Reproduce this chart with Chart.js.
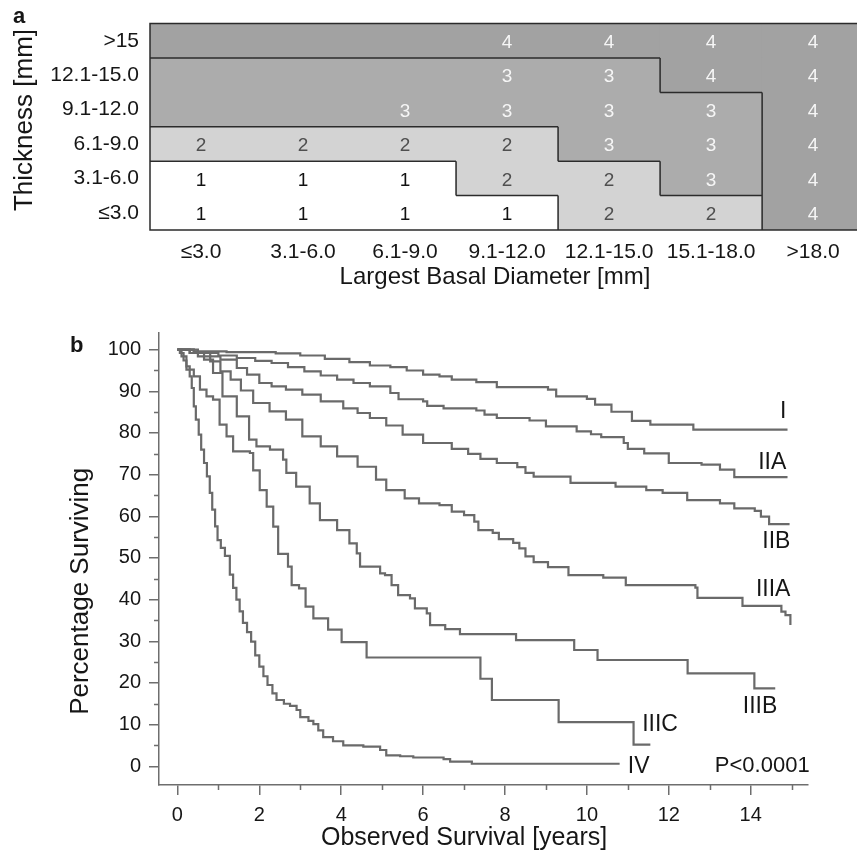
<!DOCTYPE html>
<html>
<head>
<meta charset="utf-8">
<title>Staging grid and survival by stage</title>
<script src="https://cdn.jsdelivr.net/npm/chart.js@4.4.1/dist/chart.umd.min.js"></script>
<style>
  html, body { margin: 0; padding: 0; background: #fff; }
  #wrap { position: relative; width: 857px; height: 856px; overflow: hidden; }
  canvas { position: absolute; left: 0; }
  #gridChart { top: 0; }
  #survChart { top: 290px; }
</style>
</head>
<body>
<div id="wrap">
  <canvas id="gridChart" width="857" height="290"></canvas>
  <canvas id="survChart" width="857" height="566"></canvas>
</div>
<script>
// ── Panel a: size categories ──────────────────────────────────────
const diamLabels  = ['≤3.0', '3.1-6.0', '6.1-9.0', '9.1-12.0', '12.1-15.0', '15.1-18.0', '>18.0'];
const thickLabels = ['≤3.0', '3.1-6.0', '6.1-9.0', '9.1-12.0', '12.1-15.0', '>15'];

// category of every cell, rows from ≤3.0 (bottom) up to >15 (top)
const sizeCategory = [
  [1, 1, 1, 1, 2, 2, 4],
  [1, 1, 1, 2, 2, 3, 4],
  [2, 2, 2, 2, 3, 3, 4],
  [3, 3, 3, 3, 3, 3, 4],
  [3, 3, 3, 3, 3, 4, 4],
  [4, 4, 4, 4, 4, 4, 4],
];
// numbers printed in the cells (null = left blank)
const cellNumbers = [
  [1, 1, 1, 1, 2, 2, 4],
  [1, 1, 1, 2, 2, 3, 4],
  [2, 2, 2, 2, 3, 3, 4],
  [null, null, 3, 3, 3, 3, 4],
  [null, null, null, 3, 3, 4, 4],
  [null, null, null, 4, 4, 4, 4],
];

// ── Panel b: Kaplan-Meier curves, [years, % surviving] ───────────
const stageI = [[0,100],[0.4,99.6],[1.2,99.4],[2.4,99.1],[3.0,98.6],[3.6,97.8],[4.2,97.0],[4.7,96.2],[5.2,95.8],[5.6,95.0],[6.0,94.0],[6.4,93.6],[6.7,92.8],[7.3,92.2],[7.8,91.0],[9.05,90.4],[9.25,88.8],[10.0,88.2],[10.2,86.8],[10.6,85.1],[11.1,82.9],[11.55,82.0],[12.6,80.8],[14.9,80.8]];
const stageIIA = [[0,100],[0.5,99.2],[1.0,98.6],[1.45,98.0],[1.9,97.3],[2.3,96.8],[2.7,95.8],[3.1,94.8],[3.5,93.8],[3.9,92.8],[4.3,92.0],[4.7,91.2],[5.2,89.6],[5.4,88.1],[6.0,87.6],[6.1,86.5],[6.5,85.9],[7.3,85.4],[7.5,84.4],[7.8,83.6],[8.6,83.0],[9.0,81.6],[9.75,80.4],[10.1,79.7],[10.35,79.0],[10.9,77.6],[11.0,76.2],[11.4,75.1],[12.0,72.8],[12.8,72.4],[13.25,71.2],[13.6,69.4],[14.9,69.4]];
const stageIIB = [[0,100],[0.4,99.4],[0.8,98.4],[1.05,97.6],[1.45,95.6],[1.7,94.0],[2.0,92.0],[2.3,91.2],[2.65,90.4],[3.05,89.2],[3.5,87.6],[4.05,85.9],[4.4,84.8],[4.7,83.6],[5.1,81.8],[5.5,79.6],[6.0,77.6],[6.7,76.2],[7.1,75.0],[7.4,73.8],[7.8,72.8],[8.3,71.8],[8.5,70.4],[8.7,69.5],[9.6,68.0],[10.7,67.1],[11.45,66.3],[11.85,65.6],[12.45,63.9],[13.25,63.1],[13.6,61.9],[14.1,61.3],[14.25,59.9],[14.45,58.1],[14.95,58.1]];
const stageIIIA = [[0,100],[0.3,99.2],[0.5,98.4],[0.8,97.2],[1.05,94.8],[1.3,92.8],[1.55,90.2],[1.85,87.2],[2.25,85.2],[2.65,83.2],[3.05,79.2],[3.5,76.8],[3.9,74.4],[4.4,71.9],[4.85,68.8],[5.1,66.3],[5.55,64.3],[5.9,63.1],[6.4,62.7],[6.7,61.1],[7.0,60.3],[7.25,58.7],[7.35,56.7],[7.7,56.0],[7.85,54.5],[8.2,53.6],[8.35,52.3],[8.5,50.4],[8.7,49.0],[9.05,47.8],[9.55,45.9],[10.4,45.3],[10.95,43.5],[12.65,42.9],[12.7,40.4],[13.8,38.5],[14.75,37.1],[14.85,36.3],[14.97,33.9]];
const stageIIIB = [[0,100],[0.3,99.2],[0.65,97.6],[0.87,94.4],[1.1,88.8],[1.45,84.0],[1.75,78.4],[1.93,76.8],[2.26,76.0],[2.58,73.6],[2.66,70.4],[2.9,67.1],[3.23,63.1],[3.48,59.1],[3.9,56.7],[4.2,53.5],[4.38,51.1],[4.46,47.9],[4.95,46.3],[5.07,45.9],[5.23,43.5],[5.39,41.1],[5.68,40.3],[5.8,37.9],[6.09,36.7],[6.17,33.9],[6.54,32.9],[6.9,31.7],[8.27,30.3],[9.69,27.9],[10.26,25.5],[12.46,22.3],[14.09,18.7],[14.6,18.7]];
const stageIIIC = [[0,100],[0.1,98.4],[0.22,95.2],[0.4,93.6],[0.55,90.4],[0.71,88.8],[0.87,88.0],[1.03,82.0],[1.2,79.2],[1.36,75.6],[1.77,75.2],[1.85,71.0],[2.01,66.3],[2.18,62.3],[2.34,57.5],[2.46,51.0],[2.7,47.9],[2.79,43.5],[2.97,42.7],[3.13,38.3],[3.32,35.5],[3.68,32.8],[4.01,29.8],[4.62,26.1],[7.4,21.0],[7.68,15.9],[9.31,10.6],[11.14,5.2],[11.55,5.2]];
const stageIV = [[0,100],[0.06,99.2],[0.15,97.4],[0.22,96.0],[0.3,93.6],[0.35,90.8],[0.4,86.4],[0.45,83.2],[0.52,79.6],[0.58,76.0],[0.65,72.8],[0.72,69.6],[0.79,65.6],[0.85,61.6],[0.92,57.6],[0.98,54.3],[1.06,52.4],[1.16,50.5],[1.28,46.0],[1.36,42.8],[1.44,40.0],[1.52,37.2],[1.6,34.4],[1.7,32.2],[1.8,29.9],[1.9,26.6],[2.0,23.9],[2.1,21.6],[2.2,19.5],[2.32,17.5],[2.42,15.9],[2.6,15.0],[2.75,14.5],[2.91,13.5],[3.0,11.8],[3.2,10.9],[3.32,10.1],[3.44,8.6],[3.56,7.0],[3.8,6.0],[4.05,5.0],[4.54,4.7],[4.95,3.9],[5.1,2.6],[5.44,2.4],[5.76,2.1],[6.5,1.7],[6.66,1.1],[7.19,0.6],[10.8,0.6]];

const stageNames  = ['I', 'IIA', 'IIB', 'IIIA', 'IIIB', 'IIIC', 'IV'];
const stageCurves = [stageI, stageIIA, stageIIB, stageIIIA, stageIIIB, stageIIIC, stageIV];
const pValueText  = 'P<0.0001';

const survXTicks = [0, 1, 2, 3, 4, 5, 6, 7, 8, 9, 10, 11, 12, 13, 14, 15];
const survYTicks = [0, 5, 10, 15, 20, 25, 30, 35, 40, 45, 50, 55, 60, 65, 70, 75, 80, 85, 90, 95, 100];

// ── Styling ───────────────────────────────────────────────────────
const FONT = "'Liberation Sans', Arial, Helvetica, sans-serif";
const C = {
  fill:  { 1: '#ffffff', 2: '#d3d3d3', 3: '#acacac', 4: '#a2a2a2' },
  num:   { 1: '#111111', 2: '#4f4f4f', 3: '#f6f6f6', 4: '#f6f6f6' },
  edge:  '#2b2b2b',
  text:  '#161616',
  curve: '#6a6a6a',
  axis:  '#6e6e6e',
};

Chart.defaults.font.family = FONT;
Chart.defaults.color = C.text;

// label anchors for panel b, in data units
const stageLabelPos = {
  I:    [14.87, 85.2, 'right'],
  IIA:  [14.87, 72.8, 'right'],
  IIB:  [14.97, 53.9, 'right'],
  IIIA: [14.97, 42.3, 'right'],
  IIIB: [14.65, 14.3, 'right'],
  IIIC: [11.35,  9.9, 'left'],
  IV:   [11.0,   0.0, 'left'],
};

function fixTicks(values) {
  return scale => { scale.ticks = values.map(v => ({ value: v })); };
}

function drawText(ctx, text, x, y, font, opts = {}) {
  ctx.save();
  ctx.translate(x, y);
  if (opts.rotate) ctx.rotate(opts.rotate);
  ctx.font = font;
  ctx.fillStyle = opts.color || C.text;
  ctx.textAlign = opts.align || 'center';
  ctx.textBaseline = opts.baseline || 'middle';
  ctx.fillText(text, 0, 0);
  ctx.restore();
}

/** Cell numbers, outlines between categories and titles for panel a */
const gridDecor = {
  id: 'gridDecor',
  afterDraw(chart) {
    const { ctx, chartArea: a, scales: { x, y } } = chart;
    const colEdge = c => x.getPixelForValue(c - 0.5);
    const rowEdge = r => y.getPixelForValue(r - 0.5);

    cellNumbers.forEach((row, r) => row.forEach((n, c) => {
      if (n === null) return;
      drawText(ctx, String(n), x.getPixelForValue(c), y.getPixelForValue(r) + 2,
        `19px ${FONT}`, { color: C.num[n] });
    }));

    ctx.save();
    ctx.strokeStyle = C.edge;
    ctx.lineWidth = 1.5;
    ctx.beginPath();
    const nR = thickLabels.length, nC = diamLabels.length;
    for (let r = 0; r < nR; r++) {
      for (let c = 0; c < nC; c++) {
        const k = sizeCategory[r][c];
        if (c + 1 < nC && sizeCategory[r][c + 1] !== k) {
          ctx.moveTo(colEdge(c + 1), rowEdge(r));
          ctx.lineTo(colEdge(c + 1), rowEdge(r + 1));
        }
        if (r + 1 < nR && sizeCategory[r + 1][c] !== k) {
          ctx.moveTo(colEdge(c), rowEdge(r + 1));
          ctx.lineTo(colEdge(c + 1), rowEdge(r + 1));
        }
      }
    }
    // outer frame, right side runs off the figure
    ctx.moveTo(a.right + 2, a.top);
    ctx.lineTo(a.left, a.top);
    ctx.lineTo(a.left, a.bottom);
    ctx.lineTo(a.right + 2, a.bottom);
    ctx.stroke();
    ctx.restore();

    drawText(ctx, 'a', 13, 23, `bold 22px ${FONT}`, { align: 'left', baseline: 'alphabetic' });
    drawText(ctx, 'Thickness [mm]', 25, 120, `26px ${FONT}`, { rotate: -Math.PI / 2 });
    drawText(ctx, 'Largest Basal Diameter [mm]', 495, 277, `24px ${FONT}`);
  },
};

/** Minor ticks, curve labels and titles for panel b */
const survDecor = {
  id: 'survDecor',
  afterDraw(chart) {
    const { ctx, chartArea: a, scales: { x, y } } = chart;

    ctx.save();
    ctx.strokeStyle = C.axis;
    ctx.lineWidth = 1.5;
    ctx.beginPath();
    survXTicks.filter(v => v % 2 !== 0).forEach(v => {
      const px = Math.round(x.getPixelForValue(v)) + 0.5;
      ctx.moveTo(px, a.bottom);
      ctx.lineTo(px, a.bottom + 5);
    });
    survYTicks.filter(v => v % 10 !== 0).forEach(v => {
      const py = Math.round(y.getPixelForValue(v)) + 0.5;
      ctx.moveTo(a.left, py);
      ctx.lineTo(a.left - 5, py);
    });
    ctx.stroke();
    ctx.restore();

    stageNames.forEach(name => {
      const [lx, ly, align] = stageLabelPos[name];
      drawText(ctx, name, x.getPixelForValue(lx), y.getPixelForValue(ly), `23px ${FONT}`, { align });
    });
    drawText(ctx, pValueText, x.getPixelForValue(15.44), y.getPixelForValue(0), `22px ${FONT}`, { align: 'right' });

    drawText(ctx, 'b', 70, 62, `bold 22px ${FONT}`, { align: 'left', baseline: 'alphabetic' });
    drawText(ctx, 'Percentage Surviving', 81, y.getPixelForValue(42), `26px ${FONT}`, { rotate: -Math.PI / 2 });
    drawText(ctx, 'Observed Survival [years]', x.getPixelForValue(7), a.bottom + 53, `25px ${FONT}`);
  },
};

// ── Panel a chart: one floating-bar dataset per thickness row ───
new Chart(document.getElementById('gridChart'), {
  type: 'bar',
  data: {
    datasets: thickLabels.map((t, r) => ({
      label: t,
      data: diamLabels.map((d, c) => ({ x: c, y: [r - 0.5, r + 0.5] })),
      backgroundColor: sizeCategory[r].map(k => C.fill[k]),
      borderWidth: 0,
      barPercentage: 1,
      categoryPercentage: 1,
      grouped: false,
    })),
  },
  options: {
    responsive: false,
    animation: false,
    layout: { padding: { top: 16, right: 0, left: 0, bottom: 0 } },
    plugins: { legend: { display: false }, tooltip: { enabled: false } },
    scales: {
      x: {
        type: 'linear',
        offset: false,
        min: -0.5,
        max: 6.43,
        afterBuildTicks: fixTicks(diamLabels.map((d, i) => i)),
        afterFit: s => { s.height = 60; },
        grid: { display: false, drawTicks: false, offset: false },
        border: { display: false },
        ticks: {
          callback: v => diamLabels[v] ?? '',
          font: { size: 21 },
          color: C.text,
          padding: 10,
          maxRotation: 0,
          autoSkip: false,
        },
      },
      y: {
        type: 'linear',
        min: -0.5,
        max: 5.5,
        afterBuildTicks: fixTicks(thickLabels.map((t, i) => i)),
        afterFit: s => { s.width = 150; },
        grid: { display: false, drawTicks: false },
        border: { display: false },
        ticks: {
          callback: v => thickLabels[v] ?? '',
          font: { size: 21 },
          color: C.text,
          padding: 11,
          autoSkip: false,
        },
      },
    },
  },
  plugins: [gridDecor],
});

// ── Panel b chart: stepped survival curves ──────────────────────
new Chart(document.getElementById('survChart'), {
  type: 'line',
  data: {
    datasets: stageCurves.map((curve, i) => ({
      label: stageNames[i],
      data: curve.map(([t, s]) => ({ x: t, y: s })),
      stepped: true,
      borderColor: C.curve,
      borderWidth: 2.2,
      pointRadius: 0,
      fill: false,
    })),
  },
  options: {
    responsive: false,
    animation: false,
    layout: { padding: { top: 43, right: 49, left: 0, bottom: 0 } },
    plugins: { legend: { display: false }, tooltip: { enabled: false } },
    scales: {
      x: {
        type: 'linear',
        min: -0.45,
        max: 15.4,
        afterBuildTicks: fixTicks(survXTicks),
        afterFit: s => { s.height = 71; },
        border: { display: true, color: C.axis, width: 1.5 },
        grid: {
          drawOnChartArea: false,
          drawTicks: true,
          tickLength: 10,
          lineWidth: 1.5,
          tickColor: c => (c.tick && c.tick.value % 2 === 0) ? C.axis : 'rgba(0,0,0,0)',
        },
        ticks: {
          callback: v => (v % 2 === 0 ? String(v) : ''),
          font: { size: 20 },
          color: C.text,
          padding: 8,
          maxRotation: 0,
          autoSkip: false,
        },
      },
      y: {
        type: 'linear',
        min: -4.5,
        max: 104,
        afterBuildTicks: fixTicks(survYTicks),
        afterFit: s => { s.width = 159; },
        border: { display: true, color: C.axis, width: 1.5 },
        grid: {
          drawOnChartArea: false,
          drawTicks: true,
          tickLength: 10,
          lineWidth: 1.5,
          tickColor: c => (c.tick && c.tick.value % 10 === 0) ? C.axis : 'rgba(0,0,0,0)',
        },
        ticks: {
          callback: v => (v % 10 === 0 ? String(v) : ''),
          font: { size: 20 },
          color: C.text,
          padding: 8,
          autoSkip: false,
        },
      },
    },
  },
  plugins: [survDecor],
});
</script>
</body>
</html>
